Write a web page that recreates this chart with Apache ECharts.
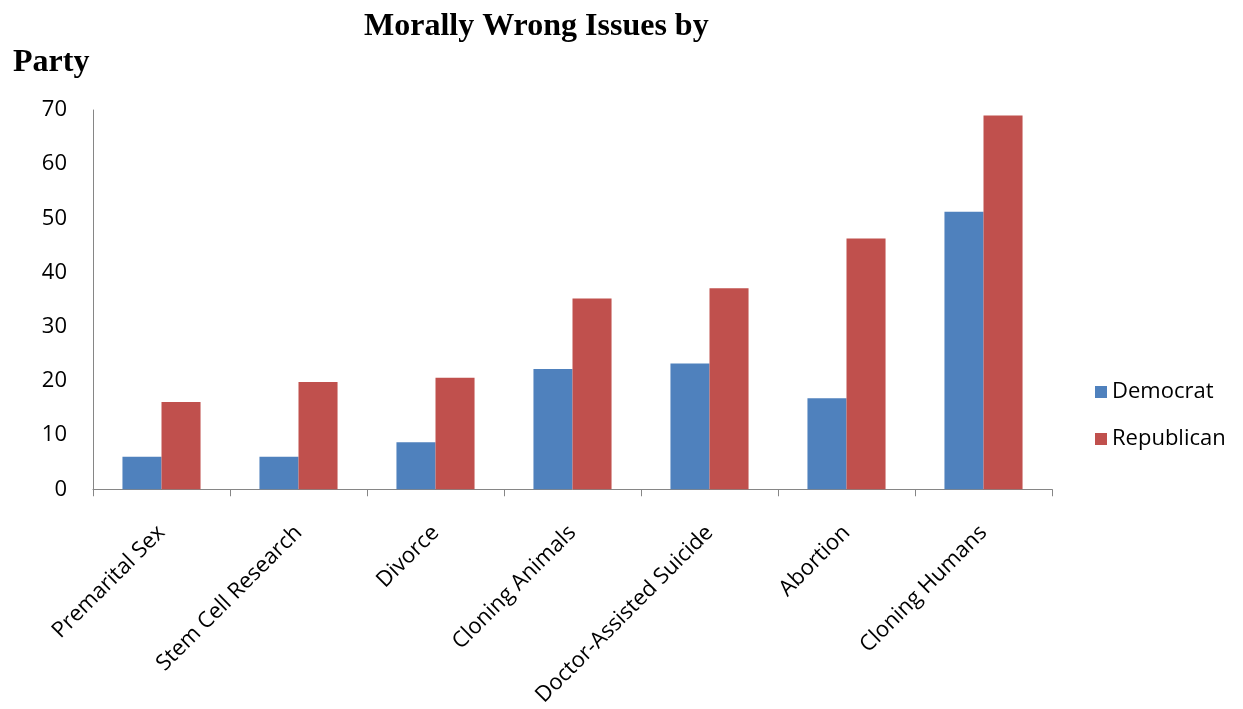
<!DOCTYPE html>
<html>
<head>
<meta charset="utf-8">
<script src="https://cdn.jsdelivr.net/npm/echarts@6/dist/echarts.min.js"></script>
<style>
  html, body { margin: 0; padding: 0; background: #fff; }
  #chart { width: 1243px; height: 709px; }
</style>
</head>
<body>
<div id="chart"></div>
<script>
const categories = ['Premarital Sex', 'Stem Cell Research', 'Divorce', 'Cloning Animals',
  'Doctor-Assisted Suicide', 'Abortion', 'Cloning Humans'];
const democrat = [6, 6, 8.7, 22.2, 23.2, 16.8, 51.2];
const republican = [16.1, 19.8, 20.6, 35.2, 37.1, 46.3, 69];
const yTicks = [0, 10, 20, 30, 40, 50, 60, 70];

const chart = echarts.init(document.getElementById('chart'));
const labelFont = '"Open Sans", "Liberation Sans", sans-serif';
const titleFont = { fontFamily: '"Liberation Serif", serif', fontWeight: 'bold', fontSize: 32, color: '#000' };

chart.setOption({
  animation: false,
  title: [
    { text: 'Morally Wrong Issues by', left: 359, top: 6, textStyle: titleFont },
    { text: 'Party', left: 8, top: 42, textStyle: titleFont }
  ],
  legend: {
    orient: 'vertical',
    left: 1090, top: 376,
    itemWidth: 12, itemHeight: 12,
    itemGap: 25,
    icon: 'rect',
    textStyle: { fontFamily: labelFont, fontSize: 22, color: '#000' },
    data: ['Democrat', 'Republican']
  },
  grid: { left: 93, right: 191, top: 110, bottom: 219, containLabel: false },
  xAxis: {
    type: 'category',
    data: categories,
    axisLine: { lineStyle: { color: '#868686', width: 1 } },
    axisTick: { show: true, length: 7, lineStyle: { color: '#868686' } },
    axisLabel: {
      rotate: 45, margin: 40, interval: 0,
      fontFamily: labelFont, fontSize: 22, color: '#000'
    },
    splitLine: { show: false }
  },
  yAxis: {
    type: 'value',
    min: yTicks[0], max: yTicks[yTicks.length - 1], interval: 10,
    axisLine: { show: true, lineStyle: { color: '#868686', width: 1 } },
    axisTick: { show: false },
    axisLabel: { fontFamily: labelFont, fontSize: 22, color: '#000', margin: 26 },
    splitLine: { show: false }
  },
  series: [
    {
      name: 'Democrat', type: 'bar', data: democrat,
      barGap: '0%', barCategoryGap: '43%',
      itemStyle: { color: '#4f81bd' }
    },
    {
      name: 'Republican', type: 'bar', data: republican,
      itemStyle: { color: '#c0504d' }
    }
  ]
});
</script>
</body>
</html>
